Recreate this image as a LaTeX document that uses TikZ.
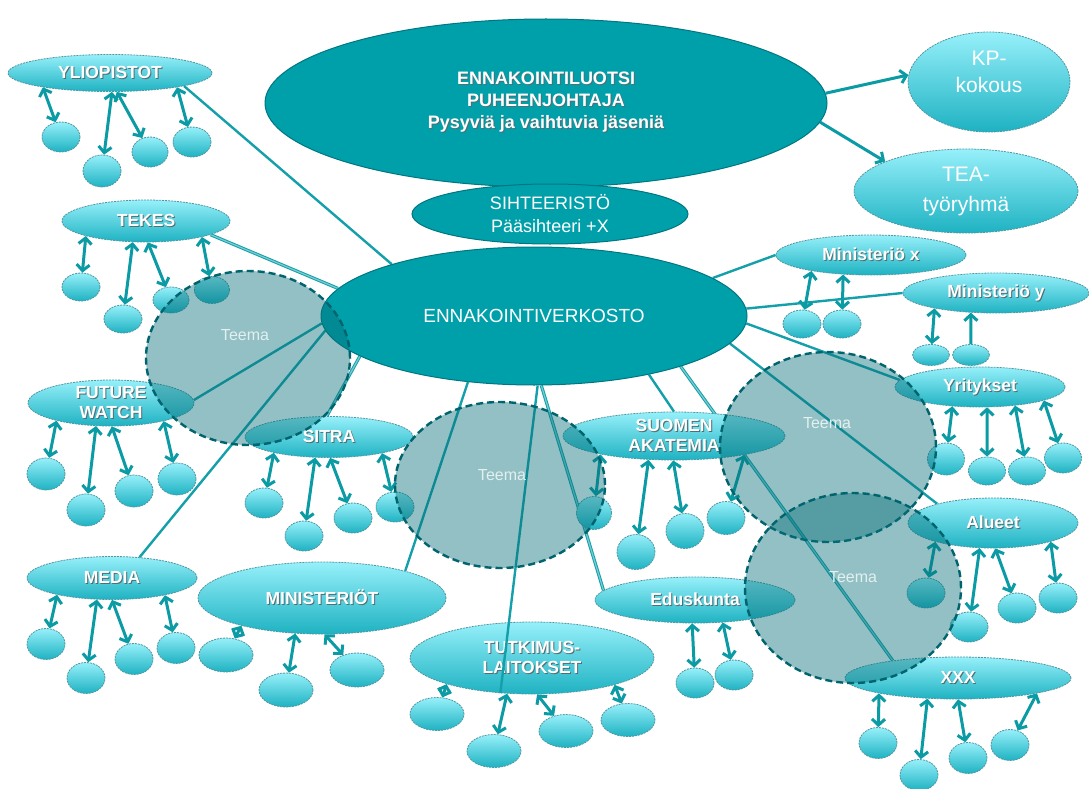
\documentclass[tikz,border=0pt]{standalone}
\usepackage{fontspec}
\setmainfont{Liberation Sans}
\usetikzlibrary{shapes.geometric,arrows.meta}
\definecolor{maincol}{RGB}{0,160,170}
\definecolor{maindark}{RGB}{0,118,128}
\definecolor{orgtop}{RGB}{150,240,250}
\definecolor{orgbot}{RGB}{30,178,194}
\definecolor{orgborder}{RGB}{80,150,160}
\definecolor{linec}{RGB}{20,160,170}
\definecolor{linelight}{RGB}{120,205,210}
\definecolor{arrowc}{RGB}{10,155,165}
\definecolor{teemafill}{RGB}{5,111,120}
\definecolor{teemaedge}{RGB}{0,100,110}
\definecolor{teematext}{RGB}{225,240,240}
\definecolor{shadowc}{RGB}{80,110,115}
\pgfdeclarelayer{back}
\pgfdeclarelayer{lines}
\pgfsetlayers{back,lines,main}
\newcommand\shd[1]{\leavevmode\rlap{\kern1pt\raisebox{-1pt}{\textcolor{shadowc}{#1}}}#1}
\newcommand\orgfont{\fontsize{17.5}{20.5}\selectfont\bfseries}
\newcommand\orgnode[5]{\node[org, minimum width=#4pt, minimum height=#5pt, label={[lab]center:{#3}}] (#1) at (#2) {};}
\newcommand\kidnode[4]{\node[org, minimum width=#3pt, minimum height=#4pt] (#1) at (#2) {};}
\begin{document}
\begin{tikzpicture}[x=1pt,y=-1pt,
  main/.style={ellipse, draw=maindark, line width=1pt, fill=maincol, inner sep=0pt},
  org/.style={ellipse, draw=orgborder, dash pattern=on 2pt off 1pt, line width=0.8pt, top color=orgtop, bottom color=orgbot, inner sep=0pt},
  lab/.style={text=white, font=\orgfont, align=center, inner sep=0pt},
  teema/.style={ellipse, inner sep=0pt, draw=teemaedge, line width=2.4pt, dash pattern=on 7pt off 4pt, fill=teemafill, fill opacity=0.43},
  teemalab/.style={text=teematext, text opacity=1, font=\fontsize{16}{18}\selectfont, inner sep=0pt},
  conn/.style={draw=linec, line width=2.4pt},
  conn2/.style={draw=linec, line width=1pt, double=linelight, double distance=1.2pt},
  biarr/.style={draw=arrowc, line width=3pt, {Straight Barb[length=6pt,width=13pt]}-{Straight Barb[length=6pt,width=13pt]}},
  uarr/.style={draw=arrowc, line width=3pt, -{Straight Barb[length=6pt,width=13pt]}}
]
\begin{pgfonlayer}{back}
\fill[white] (0,0) rectangle (1089,789);
\end{pgfonlayer}
\useasboundingbox (0,0) rectangle (1089,789);

% main ellipses
\node[main, minimum width=562pt, minimum height=168pt,
  label={[lab, font=\fontsize{18}{22}\selectfont\bfseries]center:{\shd{ENNAKOINTILUOTSI}\\\shd{PUHEENJOHTAJA}\\\shd{Pysyviä ja vaihtuvia jäseniä}}}] (lu) at (546,103) {};
\node[main, minimum width=426pt, minimum height=138pt,
  label={[lab, font=\fontsize{19}{22}\selectfont]center:ENNAKOINTIVERKOSTO}] (ve) at (534,316) {};
\node[main, minimum width=276pt, minimum height=60pt,
  label={[lab, font=\fontsize{18}{23}\selectfont]center:{SIHTEERISTÖ\\Pääsihteeri +X}}] (se) at (550,214) {};

% KP and TEA
\node[org, minimum width=162pt, minimum height=100pt,
  label={[lab, font=\fontsize{21}{27}\selectfont, yshift=10pt]center:{KP-\\kokous}}] (kp) at (989,82) {};
\node[org, minimum width=224pt, minimum height=84pt,
  label={[lab, font=\fontsize{21}{30}\selectfont]center:{TEA-\\työryhmä}}] (tea) at (966,191) {};

% organisations
\orgnode{yl}{110,73}{\shd{YLIOPISTOT}}{204}{37}
\orgnode{tk}{146,221}{\shd{TEKES}}{168}{42}
\orgnode{fw}{111,403}{\shd{FUTURE}\\\shd{WATCH}}{166}{46}
\orgnode{si}{329,437}{\shd{SITRA}}{168}{41}
\orgnode{me}{112,578}{\shd{MEDIA}}{170}{43}
\orgnode{mi}{322,598}{\shd{MINISTERIÖT}}{248}{72}
\orgnode{tu}{532,658}{\shd{TUTKIMUS-}\\\shd{LAITOKSET}}{244}{72}
\orgnode{ed}{695,600}{\shd{Eduskunta}}{200}{46}
\orgnode{sa}{674,436}{\shd{SUOMEN}\\\shd{AKATEMIA}}{222}{48}
\orgnode{mx}{871,255}{\shd{Ministeriö x}}{190}{40}
\orgnode{my}{996,293}{\shd{Ministeriö y}}{186}{40}
\orgnode{yr}{980,387}{\shd{Yritykset}}{170}{40}
\orgnode{al}{993,523}{\shd{Alueet}}{170}{50}
\orgnode{xx}{958,678}{\shd{XXX}}{226}{42}

% small member nodes
\kidnode{y1}{61,137}{38}{30}\kidnode{y2}{102,171}{38}{32}\kidnode{y3}{150,152}{36}{30}\kidnode{y4}{192,142}{38}{30}
\kidnode{t1}{81,287}{38}{28}\kidnode{t2}{123,319}{38}{28}\kidnode{t3}{171,300}{36}{26}\kidnode{t4}{212,290}{35}{27}
\kidnode{f1}{46,474}{38}{32}\kidnode{f2}{86,510}{38}{32}\kidnode{f3}{134,491}{38}{32}\kidnode{f4}{177,479}{38}{32}
\kidnode{s1}{264,503}{38}{30}\kidnode{s2}{304,536}{38}{30}\kidnode{s3}{353,518}{38}{30}\kidnode{s4}{395,507}{38}{30}
\kidnode{m1}{46,644}{38}{31}\kidnode{m2}{86,678}{38}{31}\kidnode{m3}{134,659}{38}{31}\kidnode{m4}{176,648}{38}{31}
\kidnode{n1}{226,655}{54}{34}\kidnode{n2}{286,690}{54}{34}\kidnode{n3}{357,670}{54}{34}
\kidnode{u1}{437,714}{54}{33}\kidnode{u2}{494,751}{54}{33}\kidnode{u3}{566,731}{54}{33}\kidnode{u4}{628,720}{54}{33}
\kidnode{e1}{695,683}{38}{30}\kidnode{e2}{734,675}{38}{30}
\kidnode{k1}{594,513}{35}{33}\kidnode{k2}{636,552}{38}{35}\kidnode{k3}{685,531}{38}{35}\kidnode{k4}{726,518}{38}{33}
\kidnode{x1}{802,324}{38}{28}\kidnode{x2}{842,324}{38}{28}
\kidnode{z1}{931,355}{37}{21}\kidnode{z2}{971,355}{37}{21}
\kidnode{r1}{946,459}{37}{32}\kidnode{r2}{987,471}{37}{28}\kidnode{r3}{1027,471}{37}{28}\kidnode{r4}{1063,458}{37}{30}
\kidnode{l1}{926,593}{38}{30}\kidnode{l2}{969,627}{38}{30}\kidnode{l3}{1017,608}{38}{30}\kidnode{l4}{1058,598}{38}{30}
\kidnode{w1}{878,743}{38}{31}\kidnode{w2}{919,775}{38}{31}\kidnode{w3}{968,758}{38}{31}\kidnode{w4}{1010,745}{38}{31}

% connectors from the network
\begin{pgfonlayer}{lines}
\draw[conn] (yl.350) -- (ve.160);
\draw[conn2] (tk.348) -- (ve.172);
\draw[conn] (fw.2) -- (ve.182);
\draw[conn] (me.37) -- (ve.184);
\draw[conn2] (si.96) -- (ve.193);
\draw[conn] (mi.18) -- (ve.225);
\draw[conn2] (ed.174) -- (ve.276);
\draw[conn] (sa.90) -- (ve.333);
\draw[conn2] (xx.165) -- (ve.341);
\draw[conn] (al.161) -- (ve.352);
\draw[conn] (yr.175) -- (ve.-2);
\draw[conn] (my.180) -- (ve.2);
\draw[conn] (mx.180) -- (ve.12);
\end{pgfonlayer}
\draw[conn] (ve.273) -- (tu.228);

% arrows to KP and TEA
\draw[uarr] (lu.2) -- (kp.175);
\draw[uarr] (lu.-4) -- (tea.160);

% member arrows
\draw[biarr] (yl.192) -- (y1); \draw[biarr] (yl.276) -- (y2); \draw[biarr] (yl.290) -- (y3); \draw[biarr] (yl.348) -- (y4);
\draw[biarr] (tk.194) -- (t1); \draw[biarr] (tk.238) -- (t2); \draw[biarr] (tk.275) -- (t3); \draw[biarr] (tk.344) -- (t4);
\draw[biarr] (fw.198) -- (f1); \draw[biarr] (fw.237) -- (f2); \draw[biarr] (fw.272) -- (f3); \draw[biarr] (fw.341) -- (f4);
\draw[biarr] (si.196) -- (s1); \draw[biarr] (si.236) -- (s2); \draw[biarr] (si.273) -- (s3); \draw[biarr] (si.343) -- (s4);
\draw[biarr] (me.197) -- (m1); \draw[biarr] (me.235) -- (m2); \draw[biarr] (me.270) -- (m3); \draw[biarr] (me.342) -- (m4);
\draw[biarr] (mi.199) -- (n1); \draw[biarr] (mi.233) -- (n2); \draw[biarr] (mi.274) -- (n3);
\draw[biarr] (tu.197) -- (u1); \draw[biarr] (tu.235) -- (u2); \draw[biarr] (tu.278) -- (u3); \draw[biarr] (tu.342) -- (u4);
\draw[biarr] (ed.263) -- (e1); \draw[biarr] (ed.321) -- (e2);
\draw[biarr] (sa.194) -- (k1); \draw[biarr] (sa.223) -- (k2); \draw[biarr] (sa.268) -- (k3); \draw[biarr] (sa.345) -- (k4);
\draw[biarr] (mx.195) -- (x1); \draw[biarr] (mx.215) -- (x2);
\draw[biarr] (my.194) -- (z1); \draw[uarr] (z2) -- (my.218);
\draw[biarr] (yr.215) -- (r1); \draw[biarr] (yr.289) -- (r2); \draw[biarr] (yr.332) -- (r3); \draw[biarr] (yr.348) -- (r4);
\draw[biarr] (al.198) -- (l1); \draw[biarr] (al.242) -- (l2); \draw[biarr] (al.275) -- (l3); \draw[biarr] (al.342) -- (l4);
\draw[biarr] (xx.191) -- (w1); \draw[biarr] (xx.214) -- (w2); \draw[biarr] (xx.270) -- (w3); \draw[biarr] (xx.349) -- (w4);

% theme circles
\node[teema, minimum width=204pt, minimum height=174pt] (th1) at (248,358) {};
\node[teema, minimum width=210pt, minimum height=166pt] (th2) at (500,485) {};
\node[teema, minimum width=216pt, minimum height=190pt] (th3) at (828,447) {};
\node[teema, minimum width=216pt, minimum height=190pt] (th4) at (853,588) {};
\node[teemalab] (tl1) at (245,335) {Teema};
\node[teemalab] (tl2) at (502,475) {Teema};
\node[teemalab] (tl3) at (827,423) {Teema};
\node[teemalab] (tl4) at (853,577) {Teema};
\end{tikzpicture}
\end{document}
